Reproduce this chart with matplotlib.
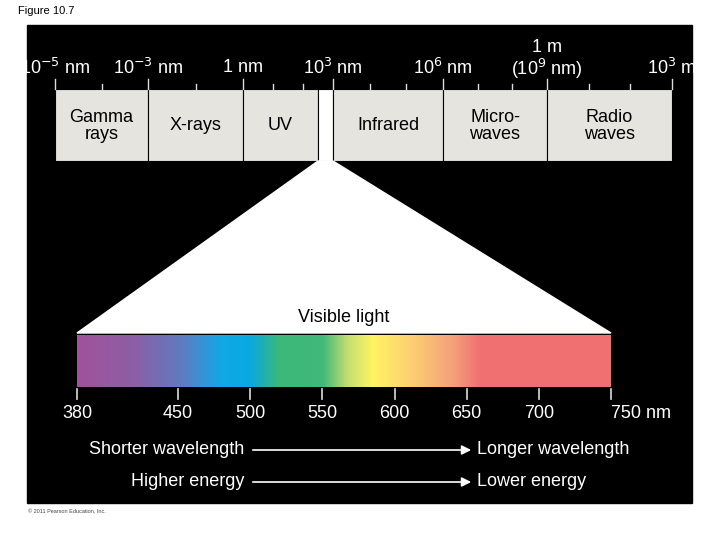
import matplotlib
matplotlib.use("Agg")
import matplotlib.pyplot as plt
import numpy as np
from matplotlib.colors import LinearSegmentedColormap

plt.rcParams['font.family'] = ['Liberation Sans', 'DejaVu Sans']

# Top band: regions and boundaries (pixel x)
regions = ["Gamma\nrays", "X-rays", "UV", "", "Infrared", "Micro-\nwaves", "Radio\nwaves"]
region_edges = [55, 148, 243, 318, 333, 443, 547, 672]
scale_labels = ["10$^{-5}$ nm", "10$^{-3}$ nm", "1 nm", "10$^{3}$ nm", "10$^{6}$ nm", "1 m\n(10$^{9}$ nm)", "10$^{3}$ m"]
scale_pos = [55, 148, 243, 333, 443, 547, 672]
# Visible spectrum
wl_ticks = [380, 450, 500, 550, 600, 650, 700, 750]
wl_stops = [380, 420, 455, 480, 500, 520, 550, 568, 585, 610, 640, 660, 750]
wl_colors = ["#a0529a", "#8c5fa6", "#5a7fc4", "#10a8e6", "#08aae0", "#3cb878", "#40b878",
             "#c4df74", "#fff462", "#fdd271", "#f4a27a", "#f07072", "#f07072"]

fig = plt.figure(figsize=(7.2, 5.4), dpi=100)
ax = fig.add_axes([0, 0, 1, 1])
ax.set_xlim(0, 720); ax.set_ylim(540, 0); ax.axis('off')

ax.text(18, 11, "Figure 10.7", fontsize=8, va='center')
ax.text(28, 512, "© 2011 Pearson Education, Inc.", fontsize=4, va='center', color='#444')
ax.add_patch(plt.Rectangle((27, 25), 665, 478, color='black'))

# band
for i, lab in enumerate(regions):
    x0, x1 = region_edges[i], region_edges[i+1]
    fc = 'white' if lab == "" else '#e6e4df'
    ax.add_patch(plt.Rectangle((x0, 89), x1 - x0, 72, facecolor=fc, edgecolor='black', lw=0.8))
    if lab:
        ax.text((x0 + x1) / 2, 126, lab, ha='center', va='center', fontsize=13, linespacing=1.0)
# ticks above band
for i in range(len(scale_pos) - 1):
    a, b = scale_pos[i], scale_pos[i+1]
    n = 2 if i < 2 else 3
    for k in range(1, n):
        x = a + (b - a) * k / n
        ax.plot([x, x], [84, 89], color='#ddd', lw=1)
for x, lab in zip(scale_pos, scale_labels):
    ax.plot([x, x], [79, 89], color='#ddd', lw=1)
    ax.text(x, 68 if '\n' not in lab else 60, lab, ha='center', va='center', color='white',
            fontsize=13, linespacing=1.0)

# trapezoid
bx0, bx1 = 77, 611
ax.add_patch(plt.Polygon([(318, 161), (333, 161), (bx1, 333), (bx0, 333)], color='white'))
ax.text(344, 317, "Visible light", ha='center', va='center', fontsize=13)

# spectrum bar
def px(w):
    return bx0 + (w - 380) / (750 - 380) * (bx1 - bx0)
cmap = LinearSegmentedColormap.from_list(
    'vis', [((w - 380) / 370, c) for w, c in zip(wl_stops, wl_colors)])
grad = np.linspace(0, 1, 512)[None, :]
ax.imshow(grad, cmap=cmap, aspect='auto', extent=(bx0, bx1, 387, 335), zorder=2)
ax.set_xlim(0, 720); ax.set_ylim(540, 0)
for w in wl_ticks:
    x = px(w)
    ax.plot([x, x], [389, 399], color='#ddd', lw=1.2)
    ax.text(x, 413, f"{w} nm" if w == 750 else str(w), ha='left' if w == 750 else 'center',
            va='center', color='white', fontsize=13)
    if w == 750:
        pass

# arrows
for y, l, r in [(450, "Shorter wavelength", "Longer wavelength"), (482, "Higher energy", "Lower energy")]:
    ax.text(244, y, l, ha='right', va='center', color='white', fontsize=13)
    ax.annotate("", xy=(474, y), xytext=(250, y),
                arrowprops=dict(arrowstyle='-|>', color='white', lw=1.2, mutation_scale=14))
    ax.text(477, y, r, ha='left', va='center', color='white', fontsize=13)

fig.savefig("out.png", dpi=100)
